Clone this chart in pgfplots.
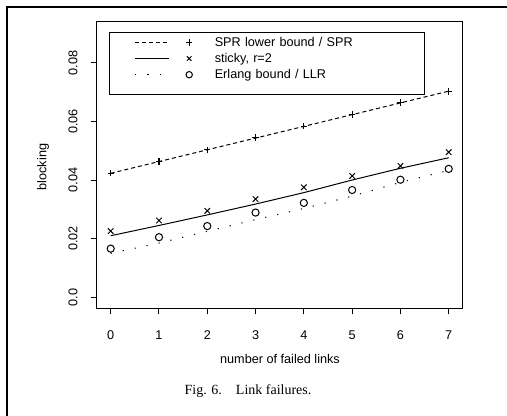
\documentclass[border=0pt]{standalone}
\usepackage{fontspec}
\setmainfont{Liberation Sans}
\newfontfamily\capfont{Liberation Serif}
\usepackage{pgfplots}
\pgfplotsset{compat=1.18}
\newlength\pxu
\setlength\pxu{0.75pt}
\begin{document}
\begin{tikzpicture}
\useasboundingbox (0,0) rectangle (507\pxu,416\pxu);
\draw[line width=1.3\pxu] (7\pxu,-20\pxu) -- (7\pxu,409\pxu) -- (530\pxu,409\pxu);
\begin{axis}[
  at={(96.7\pxu,107.7\pxu)}, anchor=south west,
  scale only axis, width=366\pxu, height=286.6\pxu,
  xmin=-0.29, xmax=7.29, ymin=-0.00375, ymax=0.094,
  scaled y ticks=false,
  font=\fontsize{9.5}{11}\selectfont,
  axis line style={line width=1.2\pxu},
  tick style={line width=1\pxu, black},
  tick align=outside, major tick length=6\pxu,
  xtick pos=bottom, ytick pos=left,
  xtick={0,1,2,3,4,5,6,7}, xticklabels={0,1,2,3,4,5,6,7},
  ytick={0,0.02,0.04,0.06,0.08}, yticklabels={0.0,0.02,0.04,0.06,0.08},
  yticklabel style={xshift=-13.3\pxu, rotate=90, anchor=base},
  xticklabel style={anchor=base, yshift=-24.9\pxu},
  xlabel={number of failed links}, ylabel={blocking},
  xlabel style={at={(axis description cs:0.5008,-0.177)}, anchor=center},
  ylabel style={at={(axis description cs:-0.1467,0.493)}, anchor=center},
  legend cell align=left,
  legend style={at={(axis description cs:0.0336,0.964)}, anchor=north west,
    draw=black, line width=1.2\pxu, inner xsep=0pt, inner ysep=1.6\pxu,
    column sep=0pt, row sep=0pt, font=\fontsize{9.5}{11}\selectfont,
    nodes={inner sep=0pt, text height=12.2\pxu, text depth=4\pxu}},
]
\addlegendimage{legend image code/.code={\path (0,0) (104\pxu,0);
  \draw[line width=1\pxu, dash pattern=on 4\pxu off 3\pxu] (25\pxu,0) -- (59\pxu,0);
  \draw plot[mark=+, mark size=3.2\pxu, mark options={line width=1.1\pxu}] coordinates {(79\pxu,0)};}}
\addlegendentry[text width=210\pxu]{SPR lower bound / SPR}
\addlegendimage{legend image code/.code={\path (0,0) (104\pxu,0);
  \draw[line width=1\pxu] (25\pxu,0) -- (59\pxu,0);
  \draw plot[mark=x, mark size=3.2\pxu, mark options={line width=1\pxu}] coordinates {(79\pxu,0)};}}
\addlegendentry[text width=210\pxu]{sticky, r=2}
\addlegendimage{legend image code/.code={\path (0,0) (104\pxu,0);
  \draw[line width=1\pxu, dash pattern=on 1.2\pxu off 11\pxu] (25\pxu,0) -- (59\pxu,0);
  \draw plot[mark=o, mark size=3.2\pxu, mark options={line width=1\pxu}] coordinates {(79\pxu,0)};}}
\addlegendentry[text width=210\pxu]{Erlang bound / LLR}
\addlegendimage{empty legend}
\addlegendentry[text height=0pt, text depth=10.2\pxu]{}
% lines
\addplot[forget plot, black, line width=1\pxu, dash pattern=on 4\pxu off 3\pxu] coordinates {
(0,0.0423) (1,0.0463) (2,0.0503) (3,0.0543) (4,0.0583) (5,0.0623) (6,0.0663) (7,0.0703)};
\addplot[forget plot, black, line width=1\pxu] coordinates {
(0,0.0210) (1,0.0245) (2,0.0281) (3,0.0318) (4,0.0357) (5,0.0400) (6,0.0440) (7,0.0476)};
\addplot[forget plot, black, line width=1\pxu, dash pattern=on 1.2\pxu off 11\pxu] coordinates {
(0,0.0150) (1,0.0185) (2,0.0225) (3,0.0265) (4,0.0303) (5,0.0345) (6,0.0392) (7,0.0433)};
% marks
\addplot[forget plot, black, only marks, mark=+, mark size=3.2\pxu, mark options={line width=1.1\pxu}] coordinates {
(0,0.0423) (1,0.0463) (2,0.0503) (3,0.0545) (4,0.0584) (5,0.0624) (6,0.0664) (7,0.0702)};
\addplot[forget plot, black, only marks, mark=x, mark size=3.9\pxu, mark options={line width=1\pxu}] coordinates {
(0,0.0226) (1,0.0262) (2,0.0295) (3,0.0335) (4,0.0375) (5,0.0414) (6,0.0448) (7,0.0495)};
\addplot[forget plot, black, only marks, mark=o, mark size=3.6\pxu, mark options={line width=1\pxu}] coordinates {
(0,0.0166) (1,0.0205) (2,0.0243) (3,0.0289) (4,0.0322) (5,0.0366) (6,0.0401) (7,0.0438)};
\end{axis}
\node[font=\capfont\fontsize{10.5}{12}\selectfont, anchor=center] at (248\pxu,25\pxu) {Fig. 6.\quad Link failures.};
\end{tikzpicture}
\end{document}
